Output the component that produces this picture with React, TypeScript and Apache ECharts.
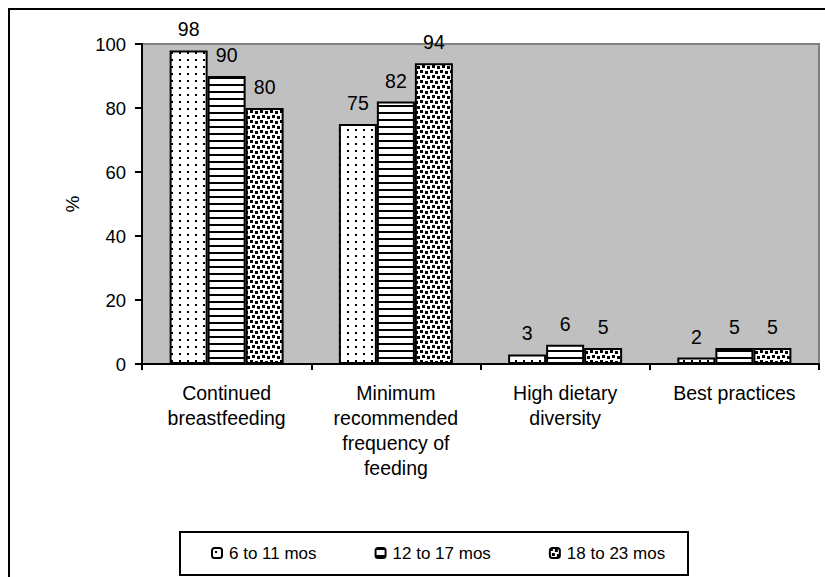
import React, { useEffect, useRef } from "react";
import * as echarts from "echarts";

const categories = [
  "Continued\nbreastfeeding",
  "Minimum\nrecommended\nfrequency of\nfeeding",
  "High dietary\ndiversity",
  "Best practices",
];
const seriesNames = ["6 to 11 mos", "12 to 17 mos", "18 to 23 mos"];
const values6to11 = [98, 75, 3, 2];
const values12to17 = [90, 82, 6, 5];
const values18to23 = [80, 94, 5, 5];
const yTicks = { min: 0, max: 100, interval: 20 };

const FONT = "'Liberation Sans', Arial, sans-serif";

function makeTile(w: number, h: number, draw: (ctx: CanvasRenderingContext2D) => void) {
  const c = document.createElement("canvas");
  c.width = w;
  c.height = h;
  const ctx = c.getContext("2d")!;
  ctx.fillStyle = "#fff";
  ctx.fillRect(0, 0, w, h);
  ctx.fillStyle = "#000";
  draw(ctx);
  return c;
}

export default function App() {
  const ref = useRef<HTMLDivElement>(null);
  useEffect(() => {
    if (!ref.current) return;
    const chart = echarts.init(ref.current, undefined, { renderer: "svg" });

    const dots = makeTile(8, 7, (ctx) => {
      ctx.fillRect(3, 3, 2, 2);
    });
    const stripes = makeTile(4, 7, (ctx) => {
      ctx.fillRect(0, 0, 4, 2);
    });
    const confetti = makeTile(10, 10, (ctx) => {
      ctx.fillRect(0, 0, 3, 3);
      ctx.fillRect(5, 1, 3, 3);
      ctx.fillRect(2, 5, 3, 3);
      ctx.fillRect(7, 6, 3, 3);
    });
    const patterns = [dots, stripes, confetti];
    const data = [values6to11, values12to17, values18to23];

    chart.setOption({
      animation: false,
      backgroundColor: "#fff",
      grid: {
        left: 142,
        right: 6,
        top: 44,
        bottom: 213,
        show: true,
        backgroundColor: "#C0C0C0",
        borderColor: "#808080",
        borderWidth: 2,
      },
      graphic: [
        {
          type: "rect",
          shape: { x: 9, y: 9, width: 900, height: 700 },
          style: { fill: "none", stroke: "#000", lineWidth: 2 },
          silent: true,
        },
        {
          type: "rect",
          shape: { x: 180, y: 532, width: 508, height: 43 },
          style: { fill: "none", stroke: "#000", lineWidth: 2 },
          silent: true,
        },
      ],
      legend: {
        data: seriesNames,
        left: 211,
        top: 543,
        padding: 0,
        itemWidth: 10,
        itemHeight: 10,
        itemGap: 58,
        selectedMode: false,
        textStyle: {
          fontFamily: FONT,
          fontSize: 17,
          lineHeight: 20,
          color: "#000",
          padding: [0, 0, 0, 2],
        },
      },
      xAxis: {
        type: "category",
        data: categories,
        axisLine: { lineStyle: { color: "#000", width: 2 } },
        axisTick: { show: true, length: 6, lineStyle: { color: "#000", width: 2 } },
        axisLabel: {
          interval: 0,
          margin: 16,
          fontFamily: FONT,
          fontSize: 19.5,
          lineHeight: 25,
          color: "#000",
        },
        splitLine: { show: false },
      },
      yAxis: {
        type: "value",
        min: yTicks.min,
        max: yTicks.max,
        interval: yTicks.interval,
        name: "%",
        nameLocation: "middle",
        nameGap: 60,
        nameTextStyle: { fontFamily: FONT, fontSize: 19, color: "#000" },
        axisLine: { show: true, lineStyle: { color: "#000", width: 2 } },
        axisTick: { show: true, length: 7, lineStyle: { color: "#000", width: 2 } },
        axisLabel: { margin: 16, fontFamily: FONT, fontSize: 18.5, color: "#000" },
        splitLine: { show: false },
      },
      series: seriesNames.map((name, i) => ({
        name,
        type: "bar",
        data: data[i],
        barWidth: 38,
        barGap: "0%",
        itemStyle: {
          color: { image: patterns[i], repeat: "repeat" },
          borderColor: "#000",
          borderWidth: 2,
        },
        emphasis: { disabled: true },
        label: {
          show: true,
          position: "top",
          distance: 10,
          fontFamily: FONT,
          fontSize: 19.5,
          lineHeight: 22,
          color: "#000",
        },
      })),
    });
    return () => chart.dispose();
  }, []);
  return (
    <div
      ref={ref}
      style={{ position: "fixed", left: 0, top: 0, width: 825, height: 577 }}
    />
  );
}
